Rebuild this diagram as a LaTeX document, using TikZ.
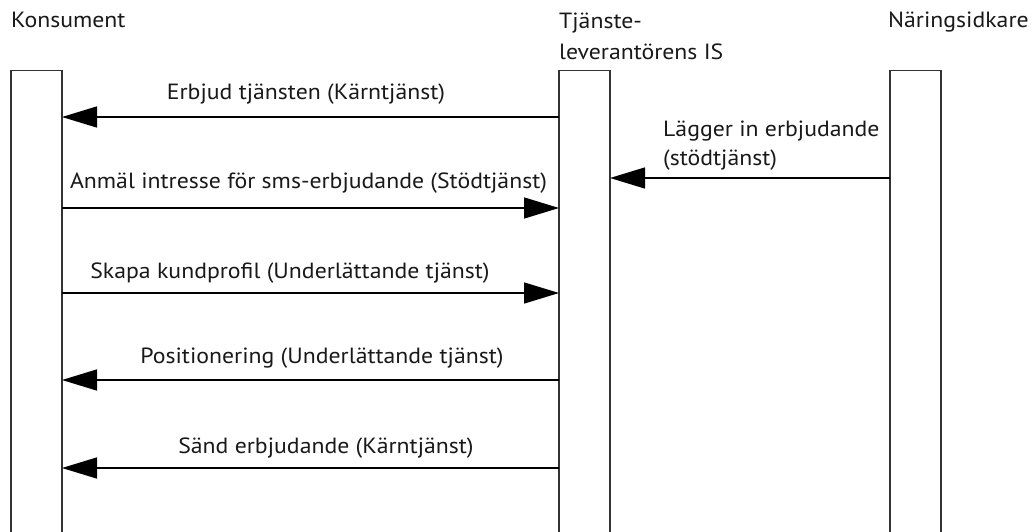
\documentclass[tikz,border=0pt]{standalone}
\usepackage{fontspec}
\setmainfont{PT Sans}[FakeStretch=1.08]
\usetikzlibrary{arrows.meta}
\begin{document}
\begin{tikzpicture}[x=1pt,y=-1pt,
  lifeline/.style={draw=black!80,line width=1.3pt,fill=white,minimum width=51pt,
    minimum height=480pt,anchor=north west,inner sep=0pt,outer sep=0pt},
  msg/.style={line width=1.5pt,-{Triangle[length=35pt,width=21pt]}},
  lbl/.style={inner sep=0pt,anchor=base,font=\fontsize{22}{30}\selectfont,text=black!90},
  head/.style={lbl,anchor=base west,align=left}]
\clip (0,0) rectangle (1033,532);
\fill[white] (0,0) rectangle (1033,532);

% lifelines (open towards the bottom edge)
\node[lifeline] (kons) at (11,70.5) {};
\node[lifeline] (is)   at (559,70.5) {};
\node[lifeline] (nar)  at (890,70.5) {};

% column headings
\node[head] (hkons) at (11,28) {Konsument};
\node[head] (his1) at (559,29) {Tjänste-};
\node[head] (his2) at (559,60) {leverantörens IS};
\node[head] (hnar) at (888,28) {Näringsidkare};

% message rows
\coordinate (r1) at (0,117);
\coordinate (r2) at (0,178);
\coordinate (r3) at (0,208);
\coordinate (r4) at (0,293);
\coordinate (r5) at (0,380);
\coordinate (r6) at (0,468);

\draw[msg] (is.west |- r1) -- (kons.east |- r1);
\draw[msg] (nar.west |- r2) -- (is.east |- r2);
\draw[msg] (kons.east |- r3) -- (is.west |- r3);
\draw[msg] (kons.east |- r4) -- (is.west |- r4);
\draw[msg] (is.west |- r5) -- (kons.east |- r5);
\draw[msg] (is.west |- r6) -- (kons.east |- r6);

% message labels
\node[lbl] (l1) at (306,100) {Erbjud tjänsten (Kärntjänst)};
\node[lbl,anchor=base west] (l2a) at (663,136) {Lägger in erbjudande};
\node[lbl,anchor=base west] (l2b) at (663,165) {(stödtjänst)};
\node[lbl] (l3) at (308.5,188) {Anmäl intresse för sms-erbjudande (Stödtjänst)};
\node[lbl] (l4) at (290,278) {Skapa kundprofil (Underlättande tjänst)};
\node[lbl] (l5) at (322,363) {Positionering (Underlättande tjänst)};
\node[lbl] (l6) at (326,453) {Sänd erbjudande (Kärntjänst)};
\end{tikzpicture}
\end{document}
